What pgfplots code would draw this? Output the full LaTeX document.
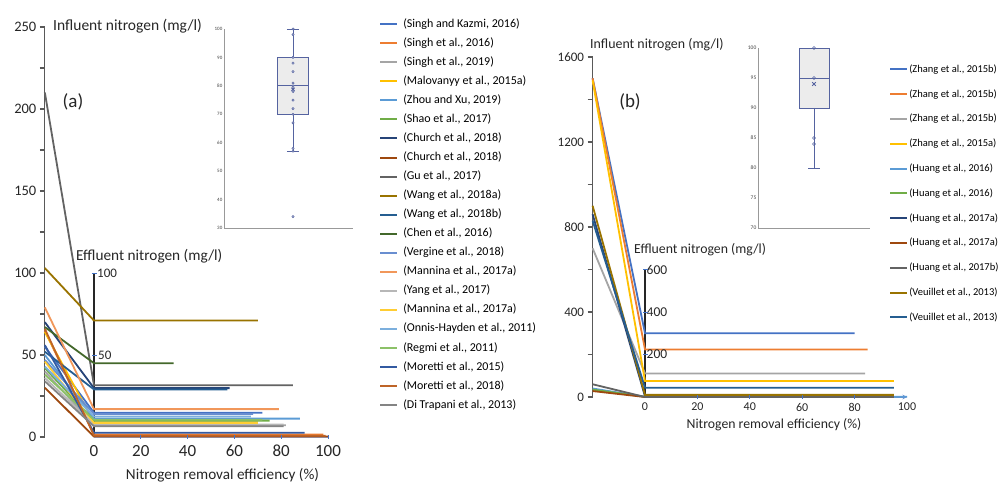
\documentclass[border=0pt]{standalone}
\usepackage{pgfplots}
\pgfplotsset{compat=1.18}
\usepackage{fontspec}
\setmainfont{Carlito}
\definecolor{c1}{HTML}{4472C4}
\definecolor{c2}{HTML}{ED7D31}
\definecolor{c3}{HTML}{A5A5A5}
\definecolor{c4}{HTML}{FFC000}
\definecolor{c5}{HTML}{5B9BD5}
\definecolor{c6}{HTML}{70AD47}
\definecolor{c7}{HTML}{264478}
\definecolor{c8}{HTML}{9E480E}
\definecolor{c9}{HTML}{636363}
\definecolor{c10}{HTML}{997300}
\definecolor{c11}{HTML}{255E91}
\definecolor{c12}{HTML}{43682B}
\definecolor{c13}{HTML}{698ED0}
\definecolor{c14}{HTML}{F1975A}
\definecolor{c15}{HTML}{B7B7B7}
\definecolor{c16}{HTML}{FFCD33}
\definecolor{c17}{HTML}{7CAFDD}
\definecolor{c18}{HTML}{8CC168}
\definecolor{c19}{HTML}{335AA1}
\definecolor{c20}{HTML}{BE6428}
\definecolor{c21}{HTML}{848484}
\definecolor{axgrey}{HTML}{595959}
\definecolor{boxc}{HTML}{5563A0}
\definecolor{txt}{HTML}{262626}
\pgfplotsset{
  /pgf/number format/assume math mode=true,
  /pgf/number format/1000 sep={},
}
\begin{document}
\begin{tikzpicture}
\useasboundingbox (0,0) rectangle (1003pt,-484pt);
%================ inset (a)
\begin{axis}[
  anchor=south west, at={(224pt,-228pt)},
  x=64.5pt, y=2.843pt, xmin=0, xmax=2, ymin=30, ymax=100,
  axis x line=bottom, axis y line=left,
  axis line style={-, draw=gray!80, line width=0.8pt},
  xtick=\empty, ytick={30,40,...,100}, major tick length=0pt,
  yticklabel style={font=\fontsize{5}{6}\selectfont, text=black!75, inner sep=1.5pt},
  clip=false,
]
% box (lower quartile 70, median 80, upper quartile 90, whiskers 57 and 100)
\addplot[draw=boxc, fill=gray!15, line width=0.8pt] coordinates {(0.83,70) (1.31,70) (1.31,90) (0.83,90)} -- cycle;
\addplot[draw=boxc, line width=0.8pt] coordinates {(0.83,80) (1.31,80)};
\addplot[draw=boxc, line width=0.8pt] coordinates {(1.07,90) (1.07,100)};
\addplot[draw=boxc, line width=0.8pt] coordinates {(1.07,70) (1.07,57)};
\addplot[draw=boxc, line width=0.8pt] coordinates {(0.975,100) (1.165,100)};
\addplot[draw=boxc, line width=0.8pt] coordinates {(0.975,57) (1.165,57)};
\addplot[only marks, mark=*, mark size=1.2pt, draw=boxc, fill=boxc!55] coordinates {
(1.07,100)(1.07,98)(1.07,90)(1.07,88)(1.07,85)(1.07,81)(1.07,80)(1.07,79)(1.07,78)
(1.07,75)(1.07,72)(1.07,70)(1.07,67)(1.07,58)(1.07,57)(1.07,34)};
\addplot[only marks, mark=x, mark size=2.2pt, draw=boxc, line width=0.8pt] coordinates {(1.07,78.8)};
\end{axis}
%================ inset (b)
\begin{axis}[
  anchor=south west, at={(758pt,-228pt)},
  x=56pt, y=6pt, xmin=0, xmax=2, ymin=70, ymax=100,
  axis x line=bottom, axis y line=left,
  axis line style={-, draw=gray!80, line width=0.8pt},
  xtick=\empty, ytick={70,75,...,100}, major tick length=0pt,
  yticklabel style={font=\fontsize{5.5}{6}\selectfont, text=black!75, inner sep=1.5pt},
  clip=false,
]
% box (lower quartile 90, median 95, upper quartile 100, lower whisker 80)
\addplot[draw=boxc, fill=gray!15, line width=0.8pt] coordinates {(0.732,90) (1.268,90) (1.268,100) (0.732,100)} -- cycle;
\addplot[draw=boxc, line width=0.8pt] coordinates {(0.732,95) (1.268,95)};
\addplot[draw=boxc, line width=0.8pt] coordinates {(1,90) (1,80)};
\addplot[draw=boxc, line width=0.8pt] coordinates {(0.9,80) (1.1,80)};
\addplot[only marks, mark=o, mark size=1.5pt, draw=boxc] coordinates {
(1,100)(1,95)(1,85)(1,84)};
\addplot[only marks, mark=x, mark size=2.5pt, draw=boxc, line width=0.8pt] coordinates {(1,94)};
\end{axis}
%================ main (a)
\begin{axis}[
  anchor=origin, at={(94pt,-437pt)},
  x=2.34pt, y=1.64pt, xmin=-21, xmax=100, ymin=0, ymax=250,
  axis x line=none, axis y line=left,
  axis line style={-, draw=axgrey, line width=1.2pt},
  ytick={0,50,...,250}, minor ytick={25,75,...,225},
  tick align=outside, major tick length=5pt, minor tick length=5pt,
  tick style={axgrey, line width=1.2pt},
  yticklabel style={font=\fontsize{14.5}{16}\selectfont, text=txt},
  scaled y ticks=false,
  clip=false,
  legend style={at={(1.1695,1.0293)}, anchor=north west, draw=none, fill=none,
    font=\fontsize{12}{13}\selectfont, row sep=5.05pt,
    nodes={inner sep=1pt, text height=9pt, text depth=3pt},
    /tikz/every odd column/.append style={column sep=4pt}},
  legend cell align=left,
  legend image post style={line width=2pt},
  every axis plot/.append style={line width=1.8pt},
]
\addplot[forget plot, draw=c1!60, line width=1pt] coordinates {(0,0) (100,0)};
\addplot[forget plot, draw=black!85, line width=1.4pt] coordinates {(0,0) (0,100)};
\addplot[forget plot, only marks, mark=-, mark size=2.5pt, draw=c1, line width=0.8pt] coordinates {(0,50)(0,100)};
\addplot[forget plot, only marks, mark=|, mark size=2pt, draw=c1, line width=0.8pt] coordinates {(20,0)(40,0)(60,0)(80,0)(100,0)};
\addplot[draw=c1] coordinates {(-21,55) (0,14.8) (72,14.8)};
\addlegendentry{(Singh and Kazmi, 2016)}
\addplot[draw=c2] coordinates {(-21,65) (0,1.5) (98,1.5)};
\addlegendentry{(Singh et al., 2016)}
\addplot[draw=c3] coordinates {(-21,40) (0,7.2) (82,7.2)};
\addlegendentry{(Singh et al., 2019)}
\addplot[draw=c4] coordinates {(-21,64) (0,9) (70,9)};
\addlegendentry{(Malovanyy et al., 2015a)}
\addplot[draw=c5] coordinates {(-21,50) (0,11.2) (88,11.2)};
\addlegendentry{(Zhou and Xu, 2019)}
\addplot[draw=c6] coordinates {(-21,42) (0,10) (75,10)};
\addlegendentry{(Shao et al., 2017)}
\addplot[draw=c7] coordinates {(-21,70) (0,29.8) (58,29.8)};
\addlegendentry{(Church et al., 2018)}
\addplot[draw=c8] coordinates {(-21,30) (0,0.3) (100,0.3)};
\addlegendentry{(Church et al., 2018)}
\addplot[draw=c9] coordinates {(-21,210) (0,31.5) (85,31.5)};
\addlegendentry{(Gu et al., 2017)}
\addplot[draw=c10] coordinates {(-21,103) (0,71) (70,71)};
\addlegendentry{(Wang et al., 2018a)}
\addplot[draw=c11] coordinates {(-21,52) (0,29) (57,29)};
\addlegendentry{(Wang et al., 2018b)}
\addplot[draw=c12] coordinates {(-21,67) (0,45) (34,45)};
\addlegendentry{(Chen et al., 2016)}
\addplot[draw=c13] coordinates {(-21,47) (0,14) (68,14)};
\addlegendentry{(Vergine et al., 2018)}
\addplot[draw=c14] coordinates {(-21,79) (0,17) (79,17)};
\addlegendentry{(Mannina et al., 2017a)}
\addplot[draw=c15] coordinates {(-21,36) (0,7.6) (81,7.6)};
\addlegendentry{(Yang et al., 2017)}
\addplot[draw=c16] coordinates {(-21,46) (0,8.5) (70,8.5)};
\addlegendentry{(Mannina et al., 2017a)}
\addplot[draw=c17] coordinates {(-21,43) (0,12.5) (67,12.5)};
\addlegendentry{(Onnis-Hayden et al., 2011)}
\addplot[draw=c18] coordinates {(-21,38) (0,10.5) (72,10.5)};
\addlegendentry{(Regmi et al., 2011)}
\addplot[draw=c19] coordinates {(-21,56) (0,2.6) (90,2.6)};
\addlegendentry{(Moretti et al., 2015)}
\addplot[draw=c20] coordinates {(-21,66) (0,0.8) (99,0.8)};
\addlegendentry{(Moretti et al., 2018)}
\addplot[draw=c21] coordinates {(-21,34) (0,6.5) (81,6.5)};
\addlegendentry{(Di Trapani et al., 2013)}
\node[anchor=west, inner sep=0, font=\fontsize{13}{14}\selectfont, text=txt] at (axis cs:0,100) [xshift=3pt] {100};
\node[anchor=west, inner sep=0, font=\fontsize{13}{14}\selectfont, text=txt] at (axis cs:0,50) [xshift=4pt] {50};
\pgfplotsinvokeforeach{0,20,40,60,80,100}{
  \node[anchor=north, inner sep=0, font=\fontsize{17}{18}\selectfont, text=txt] at (axis cs:#1,0) [yshift=-8pt] {#1};
}
\end{axis}
%================ main (b)
\begin{axis}[
  anchor=origin, at={(645pt,-397pt)},
  x=2.62pt, y=0.2125pt, xmin=-20, xmax=100, ymin=0, ymax=1600,
  axis x line=none, axis y line=left,
  axis line style={-, draw=axgrey, line width=1.2pt},
  ytick={0,400,...,1600}, minor ytick={200,600,...,1400},
  tick align=outside, major tick length=5pt, minor tick length=5pt,
  tick style={axgrey, line width=1.2pt},
  yticklabel style={font=\fontsize{13}{14}\selectfont, text=txt},
  scaled y ticks=false,
  clip=false,
  legend style={at={(0.9332,0.9882)}, anchor=north west, draw=none, fill=none,
    font=\fontsize{10.5}{12}\selectfont, row sep=12.3pt,
    nodes={inner sep=1pt, text height=8pt, text depth=2.5pt}},
  legend cell align=left,
  legend image post style={line width=2pt},
  every axis plot/.append style={line width=1.8pt},
]
\addplot[forget plot, draw=c1!80, line width=1pt, -stealth] coordinates {(0,0) (100,0)};
\addplot[forget plot, draw=black!85, line width=1.4pt] coordinates {(0,0) (0,600)};
\addplot[forget plot, only marks, mark=-, mark size=2.5pt, draw=c1, line width=0.8pt] coordinates {(0,200)(0,400)(0,600)};
\addplot[forget plot, only marks, mark=|, mark size=2pt, draw=c1, line width=0.8pt] coordinates {(20,0)(40,0)(60,0)(80,0)};
\addplot[draw=c1] coordinates {(-20,1500) (0,300) (80,300)};
\addlegendentry{(Zhang et al., 2015b)}
\addplot[draw=c2] coordinates {(-20,1500) (0,224) (85,224)};
\addlegendentry{(Zhang et al., 2015b)}
\addplot[draw=c3] coordinates {(-20,700) (0,111) (84,111)};
\addlegendentry{(Zhang et al., 2015b)}
\addplot[draw=c4] coordinates {(-20,1490) (0,75) (95,75)};
\addlegendentry{(Zhang et al., 2015a)}
\addplot[draw=c5] coordinates {(-20,40) (0,1) (100,1)};
\addlegendentry{(Huang et al., 2016)}
\addplot[draw=c6] coordinates {(-20,35) (0,1) (95,1)};
\addlegendentry{(Huang et al., 2016)}
\addplot[draw=c7] coordinates {(-20,860) (0,3) (95,3)};
\addlegendentry{(Huang et al., 2017a)}
\addplot[draw=c8] coordinates {(-20,28) (0,0) (95,0)};
\addlegendentry{(Huang et al., 2017a)}
\addplot[draw=c9] coordinates {(-20,60) (0,0) (95,0)};
\addlegendentry{(Huang et al., 2017b)}
\addplot[draw=c10] coordinates {(-20,900) (0,10) (95,10)};
\addlegendentry{(Veuillet et al., 2013)}
\addplot[draw=c11] coordinates {(-20,830) (0,44) (95,44)};
\addlegendentry{(Veuillet et al., 2013)}
\pgfplotsinvokeforeach{200,400,600}{
  \node[anchor=west, inner sep=0, font=\fontsize{13.5}{14}\selectfont, text=txt] at (axis cs:0,#1) [xshift=1.5pt] {#1};
}
\pgfplotsinvokeforeach{0,20,40,60,80,100}{
  \node[anchor=north, inner sep=0, font=\fontsize{12}{13}\selectfont, text=txt] at (axis cs:#1,0) [yshift=-6pt] {#1};
}
\end{axis}
%================ texts
\node[anchor=west, inner sep=0, font=\fontsize{15.5}{17}\selectfont, text=txt] at (53pt,-26pt) {Influent nitrogen (mg/l)};
\node[anchor=west, inner sep=0, font=\fontsize{15.3}{17}\selectfont, text=txt] at (76pt,-256pt) {Effluent nitrogen (mg/l)};
\node[inner sep=0, font=\fontsize{15.2}{17}\selectfont, text=txt] at (222.5pt,-475pt) {Nitrogen removal efficiency (\%)};
\node[inner sep=0, font=\fontsize{19}{21}\selectfont, text=txt] at (73pt,-102pt) {(a)};
\node[anchor=west, inner sep=0, font=\fontsize{13.9}{15}\selectfont, text=txt] at (590pt,-45pt) {Influent nitrogen (mg/l)};
\node[anchor=west, inner sep=0, font=\fontsize{13.8}{15}\selectfont, text=txt] at (634pt,-250pt) {Effluent nitrogen (mg/l)};
\node[inner sep=0, font=\fontsize{13.75}{15}\selectfont, text=txt] at (774pt,-425pt) {Nitrogen removal efficiency (\%)};
\node[inner sep=0, font=\fontsize{19}{21}\selectfont, text=txt] at (630pt,-102pt) {(b)};
\end{tikzpicture}
\end{document}
